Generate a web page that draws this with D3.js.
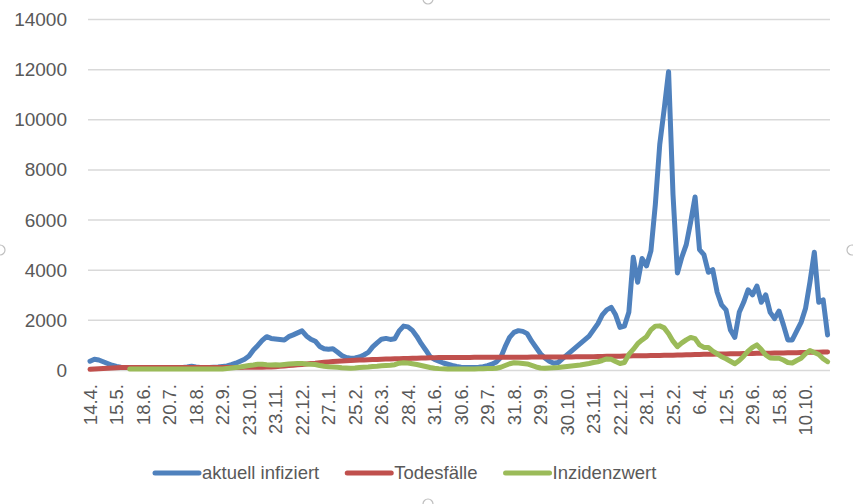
<!DOCTYPE html>
<html><head><meta charset="utf-8">
<script src="https://cdn.jsdelivr.net/npm/d3@7"></script>
<style>
html,body{margin:0;padding:0;background:#fff;}
svg{display:block;font-family:"Liberation Sans",Arial,sans-serif;}
</style></head>
<body><svg id="c" width="853" height="504"></svg>
<script>
const tickLabels = ["14.4.","15.5.","18.6.","20.7.","18.8.","22.9.","23.10.","23.11.","22.12.","27.1.","25.2.","26.3.","28.4.","31.6.","30.6.","29.7.","31.8.","29.9.","30.10.","23.11.","22.12.","28.1.","25.2.","6.4.","12.5.","29.6.","15.8.","10.10."];
const seriesNames = ["aktuell infiziert","Todesfälle","Inzidenzwert"];
const seriesColors = ["#4F81BD","#C0504D","#9BBB59"];
const yTicks = [0,2000,4000,6000,8000,10000,12000,14000];

const infiziert = [350,430,400,330,260,190,140,110,100,95,90,90,90,90,90,90,90,90,90,90,95,100,120,150,120,100,100,100,110,120,
140,160,210,270,350,430,560,800,980,1180,1330,1260,1240,1220,1200,1330,1400,1480,1560,1360,1230,1150,940,850,830,850,720,580,500,470,
480,520,600,700,920,1080,1230,1260,1220,1250,1560,1750,1720,1580,1340,1050,800,530,420,350,280,230,180,140,110,100,100,100,110,130,
170,230,320,500,930,1300,1500,1570,1540,1450,1150,900,650,480,350,270,300,450,600,750,900,1050,1200,1350,1600,1850,2200,2400,2500,2200,
1700,1750,2300,4500,3500,4450,4150,4750,6600,9000,10400,11900,7000,3870,4500,5000,5900,6900,4800,4600,3900,4000,3100,2600,2400,1600,1300,2300,
2700,3200,3000,3350,2700,3000,2300,2050,2350,1800,1200,1200,1550,1900,2450,3500,4700,2700,2800,1400];

const todesfaelle = [30,40,50,60,70,80,90,95,100,100,100,100,100,100,100,100,100,100,100,100,100,100,100,100,100,100,100,100,100,100,
100,100,100,100,100,105,105,105,105,110,115,120,130,145,160,175,190,205,220,240,255,270,290,305,320,335,350,360,370,380,
390,395,400,410,415,420,430,435,440,445,450,455,460,465,470,475,480,485,490,495,495,500,500,500,500,500,500,505,505,505,
505,505,505,505,510,510,510,510,510,510,515,515,515,515,515,520,520,520,520,520,525,525,525,530,530,535,540,545,545,550,
550,555,560,565,565,570,570,575,580,580,585,590,590,595,600,605,610,615,620,625,630,630,635,640,640,645,650,650,655,655,
660,665,665,670,670,675,680,680,685,690,690,695,700,705,710,710,715,720];

const inzidenz = [null,null,null,null,null,null,null,null,null,40,40,40,40,40,40,40,40,40,40,40,40,40,40,40,40,40,40,40,40,40,
40,60,80,100,120,150,180,200,230,230,210,200,210,200,220,240,250,260,260,240,230,220,180,150,130,120,110,90,80,70,
80,100,110,120,140,150,170,180,190,210,270,290,280,250,220,180,140,100,70,55,45,40,40,40,40,40,40,40,45,50,
55,60,70,110,180,250,290,280,260,240,180,120,80,70,80,90,100,120,140,160,180,200,230,260,300,330,380,440,430,340,
260,300,620,820,1050,1200,1330,1600,1750,1760,1680,1450,1150,930,1080,1200,1300,1250,1000,900,900,750,650,530,450,350,250,380,
550,750,900,1000,820,600,480,470,470,400,300,280,380,470,650,780,700,620,450,330];

(function(){
const N = infiziert.length;
const labelEvery = 6;
const categories = d3.range(N);

const svg = d3.select("#c");
const pLeft = 88, pRight = 830, pTop = 19, pBottom = 370;
const firstX = 90, labelStep = 26.5;

const x = d3.scalePoint().domain(categories).range([firstX, firstX + labelStep/labelEvery*(N-1)]);
const y = d3.scaleLinear().domain([0,14000]).range([pBottom, pTop]);

// gridlines + y labels
const yAxis = d3.axisLeft(y).tickValues(yTicks).tickSize(-(pRight-pLeft)).tickPadding(21).tickFormat(d3.format("d"));
const gy = svg.append("g").attr("transform",`translate(${pLeft},0)`).call(yAxis);
gy.select(".domain").remove();
gy.selectAll(".tick line").attr("stroke","#d9d9d9").attr("stroke-width",1.5);
gy.selectAll(".tick text").attr("fill","#595959").attr("font-size","19px").attr("dy","0.34em");

// x axis labels
const xAxis = d3.axisBottom(x).tickValues(categories.filter(i => i % labelEvery === 0)).tickSize(0)
  .tickFormat(i => tickLabels[i / labelEvery]);
const gx = svg.append("g").attr("transform",`translate(0,${pBottom})`).call(xAxis);
gx.select(".domain").remove();
gx.selectAll(".tick text").attr("fill","#595959").attr("font-size","18.5px")
  .attr("transform","rotate(-90)").attr("text-anchor","end").attr("x",-14).attr("y",0).attr("dy","0.35em");

// lines
const seriesData = [infiziert, todesfaelle, inzidenz];
const line = d3.line().defined(d => d != null).x((d,i) => x(i)).y(d => y(d));
seriesData.forEach((s, si) => {
  svg.append("path").datum(s).attr("d", line).attr("fill","none")
    .attr("stroke", seriesColors[si]).attr("stroke-width", 5)
    .attr("stroke-linejoin","round").attr("stroke-linecap","round");
});

// legend
const lg = svg.append("g").attr("transform","translate(155,473)");
let cx = 0;
seriesNames.forEach((name, i) => {
  lg.append("line").attr("x1", cx).attr("x2", cx + 44).attr("y1",0).attr("y2",0)
    .attr("stroke", seriesColors[i]).attr("stroke-width",5).attr("stroke-linecap","round");
  const t = lg.append("text").attr("x", cx + 47).attr("y", 0).attr("dy","0.35em")
    .attr("fill","#595959").attr("font-size","18.5px").text(name);
  cx += 47 + t.node().getComputedTextLength() + 28;
});

// selection handles
[[0,250],[852,250],[428,-1],[428,504]].forEach(p => {
  svg.append("circle").attr("cx",p[0]).attr("cy",p[1]).attr("r",5)
    .attr("fill","#fff").attr("stroke","#bfbfbf").attr("stroke-width",1.2);
});
})();
</script>
</body></html>
